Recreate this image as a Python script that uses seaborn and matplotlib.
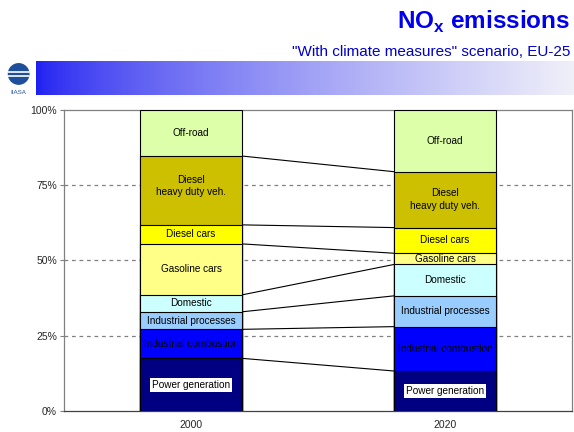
import numpy as np
import pandas as pd
import seaborn as sns
import matplotlib.pyplot as plt
from matplotlib.patches import Circle

# shares of NOx emissions (%)
years = ["2000", "2020"]
sectors = ["Power generation", "Industrial combustion", "Industrial processes", "Domestic",
           "Gasoline cars", "Diesel cars", "Diesel\nheavy duty veh.", "Off-road"]
share_2000 = [17.6, 9.6, 5.8, 5.6, 16.9, 6.3, 22.8, 15.4]
share_2020 = [13.4, 14.7, 10.2, 10.4, 3.7, 8.5, 18.5, 20.6]
colors = ["#000080", "#0000FF", "#99CCFF", "#CCFFFF", "#FFFF88", "#FFFF00", "#CCC000", "#DDFFAA"]

sns.set_style("white")
plt.rcParams["font.family"] = ["Liberation Sans", "DejaVu Sans"]
plt.rcParams["mathtext.fontset"] = "custom"
plt.rcParams["mathtext.bf"] = "Liberation Sans:bold"

fig = plt.figure(figsize=(5.74, 4.32), dpi=100)
ax = fig.add_axes([0.1115, 0.0475, 0.885, 0.699])

df = pd.DataFrame({"year": np.repeat(years, len(sectors)),
                   "sector": sectors * 2,
                   "share": share_2000 + share_2020})
df["top"] = df.groupby("year")["share"].cumsum()
df["bottom"] = df["top"] - df["share"]

# stack by drawing the cumulative bars from the top down
for sec, col in reversed(list(zip(sectors, colors))):
    sns.barplot(data=df[df["sector"] == sec], x="year", y="top", order=years,
                color=col, saturation=1, width=0.4, edgecolor="black",
                linewidth=0.8, ax=ax, zorder=3)

# connector lines between the segment borders
w = 0.2
for sec in sectors[:-1]:
    t = df[df["sector"] == sec]["top"].values
    ax.plot([0 + w, 1 - w], t, color="black", lw=0.8, zorder=2)

# segment labels
for _, r in df.iterrows():
    xi = years.index(r["year"])
    mid = (r["top"] + r["bottom"]) / 2
    txt = r["sector"]
    if r["year"] == "2000" and txt == "Diesel\nheavy duty veh.":
        mid += 1.5
    box = None
    if txt == "Power generation":
        box = dict(facecolor="white", edgecolor="none", pad=1.5)
    ax.text(xi, mid, txt, ha="center", va="center", fontsize=7.2,
            color="black", bbox=box, zorder=5, linespacing=1.3)

ax.set_xlim(-0.5, 1.5)
ax.set_ylim(0, 100)
ax.set_yticks([0, 25, 50, 75, 100])
ax.set_yticklabels(["0%", "25%", "50%", "75%", "100%"])
for y in [25, 50, 75]:
    ax.axhline(y, color="#808080", ls=(0, (3, 3)), lw=0.9, zorder=1)
ax.set_xlabel("")
ax.set_ylabel("")
ax.tick_params(axis="y", length=3, width=0.8, color="#808080", labelsize=7.5, pad=2, left=True)
ax.tick_params(axis="x", length=0, labelsize=7.5, pad=6)
for s in ax.spines.values():
    s.set_color("#808080")
    s.set_linewidth(0.9)
ax.spines["bottom"].set_color("#404040")

# header band with gradient
band = fig.add_axes([0.0627, 0.780, 0.9373, 0.0787])
grad = np.linspace(0, 1, 256)
rgb = np.zeros((1, 256, 3))
rgb[0, :, 0] = 0.12 + 0.82 * grad ** 0.7
rgb[0, :, 1] = 0.12 + 0.82 * grad ** 0.7
rgb[0, :, 2] = 0.95 + 0.03 * grad
band.imshow(rgb, aspect="auto", extent=[0, 1, 0, 1])
band.set_axis_off()

# simple logo
logo = fig.add_axes([0.005, 0.780, 0.055, 0.0787])
logo.set_xlim(0, 1)
logo.set_ylim(0, 1)
logo.set_aspect("equal", adjustable="datalim")
logo.add_patch(Circle((0.5, 0.62), 0.3, color="#1F4E9A"))
for yy in [0.55, 0.68]:
    logo.plot([0.2, 0.8], [yy, yy], color="white", lw=1.2)
logo.text(0.5, 0.08, "IIASA", ha="center", va="center", fontsize=4.5, color="#1F4E9A")
logo.set_axis_off()

fig.text(0.993, 0.950, r"NO$_\mathbf{x}$ emissions", ha="right", va="center",
         fontsize=17.5, fontweight="bold", color="#0000EE")
fig.text(0.993, 0.880, "\"With climate measures\" scenario, EU-25", ha="right", va="center",
         fontsize=11, color="#0000CC")

fig.savefig("out.png", dpi=100)
